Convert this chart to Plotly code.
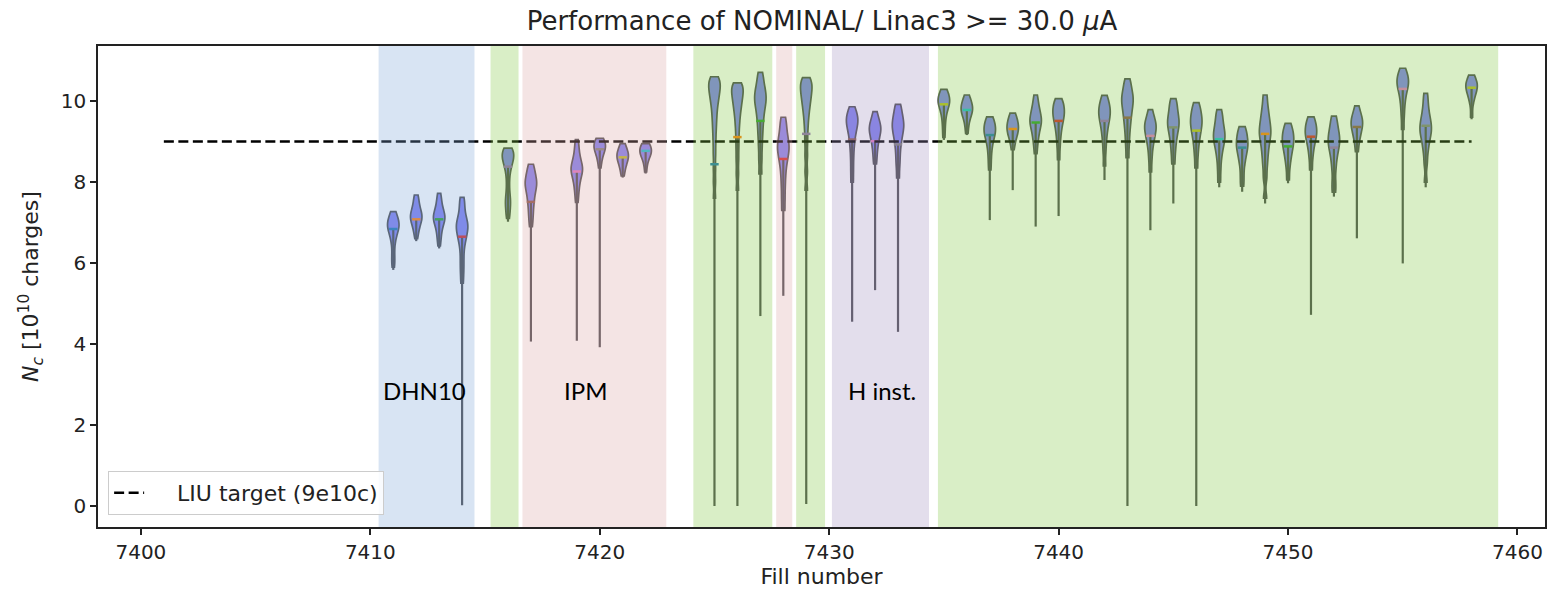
import plotly.graph_objects as go

# Fill numbers with a bunch-charge distribution
fills = [7411, 7412, 7413, 7414, 7416, 7417, 7419, 7420, 7421, 7422,
         7425, 7426, 7427, 7428, 7429, 7431, 7432, 7433, 7435, 7436,
         7437, 7438, 7439, 7440, 7442, 7443, 7444, 7445, 7446, 7447,
         7448, 7449, 7450, 7451, 7452, 7453, 7455, 7456, 7458]

# Bulk of the extracted charges per fill [1e10 charges]
charge_samples = [
    [5.9, 6.05, 6.2, 6.4, 6.55, 6.65, 6.72, 6.78, 6.83, 6.87, 6.91, 6.94, 6.97, 7.0, 7.04, 7.09, 7.15, 7.22, 7.27],
    [6.6, 6.75, 6.85, 6.92, 7.0, 7.05, 7.09, 7.12, 7.15, 7.18, 7.22, 7.27, 7.33, 7.4, 7.5, 7.6, 7.68],
    [6.42, 6.6, 6.72, 6.84, 6.93, 7.0, 7.05, 7.09, 7.12, 7.15, 7.19, 7.24, 7.3, 7.38, 7.48, 7.6, 7.72],
    [5.5, 5.75, 5.95, 6.15, 6.35, 6.5, 6.6, 6.68, 6.75, 6.82, 6.88, 6.93, 6.98, 7.04, 7.12, 7.22, 7.35, 7.5, 7.62],
    [7.1, 7.25, 7.4, 7.5, 7.6, 7.75, 7.95, 8.15, 8.3, 8.4, 8.47, 8.53, 8.58, 8.63, 8.68, 8.72, 8.76, 8.8, 8.84],
    [6.9, 7.1, 7.25, 7.4, 7.52, 7.62, 7.72, 7.8, 7.87, 7.93, 7.98, 8.03, 8.09, 8.16, 8.25, 8.35, 8.44],
    [7.5, 7.7, 7.85, 7.97, 8.07, 8.15, 8.22, 8.27, 8.31, 8.35, 8.4, 8.46, 8.53, 8.62, 8.74, 8.88, 9.05],
    [8.35, 8.5, 8.62, 8.7, 8.76, 8.81, 8.84, 8.87, 8.9, 8.93, 8.96, 9.0, 9.04, 9.08],
    [8.15, 8.28, 8.38, 8.47, 8.53, 8.58, 8.61, 8.64, 8.67, 8.7, 8.74, 8.8, 8.87, 8.95],
    [8.25, 8.45, 8.58, 8.65, 8.7, 8.73, 8.76, 8.78, 8.8, 8.83, 8.87, 8.91, 8.95],
    [7.6, 8.0, 8.35, 8.7, 9.0, 9.25, 9.45, 9.62, 9.77, 9.9, 10.0, 10.09, 10.17, 10.24, 10.31, 10.37, 10.43, 10.49, 10.55, 10.6],
    [7.8, 8.2, 8.55, 8.85, 9.12, 9.35, 9.53, 9.68, 9.8, 9.9, 9.99, 10.07, 10.15, 10.22, 10.28, 10.34, 10.4, 10.45],
    [8.2, 8.55, 8.85, 9.1, 9.3, 9.48, 9.63, 9.76, 9.87, 9.96, 10.04, 10.12, 10.2, 10.29, 10.4, 10.54, 10.71],
    [7.3, 7.6, 7.88, 8.12, 8.32, 8.48, 8.6, 8.7, 8.79, 8.87, 8.95, 9.04, 9.15, 9.28, 9.43, 9.6],
    [7.8, 8.25, 8.65, 9.0, 9.3, 9.53, 9.7, 9.84, 9.95, 10.05, 10.14, 10.22, 10.3, 10.37, 10.44, 10.51, 10.58],
    [8.0, 8.3, 8.58, 8.82, 9.0, 9.14, 9.25, 9.34, 9.42, 9.48, 9.54, 9.6, 9.67, 9.75, 9.86],
    [8.45, 8.65, 8.82, 8.95, 9.05, 9.14, 9.21, 9.27, 9.32, 9.37, 9.43, 9.5, 9.6, 9.74],
    [8.1, 8.4, 8.62, 8.82, 8.98, 9.1, 9.2, 9.29, 9.36, 9.43, 9.5, 9.58, 9.68, 9.8, 9.92],
    [9.1, 9.35, 9.55, 9.7, 9.8, 9.87, 9.93, 9.97, 10.01, 10.05, 10.1, 10.16, 10.22, 10.29],
    [9.2, 9.4, 9.55, 9.64, 9.7, 9.75, 9.79, 9.83, 9.87, 9.92, 9.98, 10.06, 10.15],
    [8.3, 8.55, 8.76, 8.92, 9.03, 9.12, 9.19, 9.24, 9.29, 9.34, 9.4, 9.47, 9.54, 9.61],
    [8.8, 8.98, 9.09, 9.17, 9.23, 9.28, 9.33, 9.37, 9.42, 9.48, 9.55, 9.62, 9.70],
    [8.7, 8.93, 9.08, 9.2, 9.3, 9.38, 9.45, 9.5, 9.55, 9.61, 9.68, 9.76, 9.86, 9.98, 10.15],
    [8.55, 8.85, 9.07, 9.23, 9.36, 9.46, 9.54, 9.61, 9.67, 9.73, 9.79, 9.85, 9.92, 9.99, 10.06],
    [8.4, 8.75, 9.0, 9.18, 9.32, 9.43, 9.52, 9.6, 9.67, 9.73, 9.79, 9.86, 9.94, 10.03, 10.14],
    [8.6, 8.9, 9.13, 9.32, 9.47, 9.6, 9.71, 9.81, 9.9, 9.98, 10.05, 10.12, 10.2, 10.3, 10.42, 10.55],
    [8.25, 8.55, 8.77, 8.93, 9.05, 9.14, 9.22, 9.29, 9.35, 9.41, 9.47, 9.54, 9.64, 9.79],
    [8.45, 8.72, 8.92, 9.08, 9.2, 9.3, 9.39, 9.46, 9.53, 9.61, 9.71, 9.82, 9.94, 10.06],
    [8.35, 8.65, 8.87, 9.03, 9.16, 9.26, 9.35, 9.43, 9.5, 9.57, 9.65, 9.74, 9.84, 9.96],
    [8.0, 8.3, 8.55, 8.72, 8.85, 8.95, 9.03, 9.1, 9.17, 9.24, 9.32, 9.42, 9.53, 9.66, 9.79],
    [7.9, 8.15, 8.4, 8.56, 8.68, 8.78, 8.86, 8.93, 9.0, 9.08, 9.17, 9.27, 9.37],
    [7.6, 8.1, 8.4, 8.62, 8.8, 8.95, 9.07, 9.17, 9.26, 9.35, 9.46, 9.58, 9.72, 9.9, 10.15],
    [8.05, 8.35, 8.55, 8.68, 8.79, 8.88, 8.96, 9.03, 9.1, 9.17, 9.25, 9.34, 9.45],
    [8.3, 8.6, 8.8, 8.94, 9.05, 9.13, 9.2, 9.27, 9.34, 9.42, 9.51, 9.61],
    [7.75, 8.0, 8.3, 8.52, 8.68, 8.8, 8.9, 8.98, 9.06, 9.14, 9.23, 9.34, 9.47, 9.63],
    [8.75, 8.98, 9.12, 9.22, 9.31, 9.38, 9.44, 9.5, 9.56, 9.63, 9.72, 9.88],
    [9.3, 9.62, 9.86, 10.04, 10.18, 10.28, 10.36, 10.43, 10.49, 10.55, 10.62, 10.7, 10.81],
    [8.0, 8.45, 8.72, 8.9, 9.04, 9.14, 9.23, 9.3, 9.38, 9.46, 9.55, 9.66, 9.8, 9.98, 10.19],
    [9.6, 9.95, 10.1, 10.2, 10.27, 10.33, 10.38, 10.42, 10.47, 10.53, 10.64],
]

# Lowest charge per fill (end of the low-intensity tail) [1e10 charges]
charge_min = [5.83, 6.54, 6.36, 0.02, 7.02, 4.06, 4.08, 3.92, 8.11, 8.21,
              0.0, 0.0, 4.69, 5.19, 0.05, 4.55, 5.33, 4.30, 9.04, 9.16,
              7.06, 7.80, 6.90, 7.16, 8.05, 0.0, 6.81, 7.47, 0.0, 7.87,
              7.76, 7.47, 7.97, 4.72, 7.64, 6.61, 5.99, 7.87, 9.55]

# Median charge per fill [1e10 charges]
median_charge = [6.84, 7.08, 7.08, 6.65, 8.38, 7.51, 8.26, 8.81, 8.61, 8.77,
                 8.44, 9.11, 9.51, 8.57, 9.19, 9.05, 9.01, 8.93, 9.92, 9.78,
                 9.16, 9.31, 9.47, 9.51, 9.51, 9.59, 9.14, 9.35, 9.27, 9.06,
                 8.85, 9.19, 8.88, 9.12, 8.85, 9.36, 10.30, 9.39, 10.33]

# Machine-condition periods (fill-number ranges)
span_start = [7410.36, 7415.24, 7416.63, 7424.08, 7427.69, 7428.56, 7430.12, 7434.74]
span_end = [7414.54, 7416.46, 7422.90, 7427.52, 7428.39, 7429.82, 7434.35, 7459.16]
span_kind = ["blue", "green", "pink", "green", "pink", "green", "purple", "green"]

region_labels = ["DHN10", "IPM", "H inst."]
region_label_fill = [7412.35, 7419.4, 7432.3]
region_label_charge = [2.85, 2.85, 2.85]

target_fills = [7401, 7458]
target_charge = 9.0

# Styling
SPAN_COLOURS = {
    "blue": "rgba(125,165,215,0.30)",
    "green": "rgba(128,198,65,0.30)",
    "pink": "rgba(218,165,165,0.30)",
    "purple": "rgba(162,145,192,0.30)",
}
TAB10 = ["#1f77b4", "#ff7f0e", "#2ca02c", "#d62728", "#9467bd",
         "#8c564b", "#e377c2", "#7f7f7f", "#bcbd22", "#17becf"]
BODY = "rgb(128,128,240)"
EDGE = "rgb(75,75,80)"
AXIS = "#222222"
FONT = "DejaVu Sans"

fig = go.Figure()

# Low-intensity tails: thin stems from the lowest charge up into the body
tail_x, tail_y = [], []
for fill, lo, med in zip(fills, charge_min, median_charge):
    tail_x += [fill, fill, None]
    tail_y += [lo, med, None]
fig.add_trace(go.Scatter(
    x=tail_x, y=tail_y, mode="lines",
    line=dict(color=EDGE, width=2.2),
    showlegend=False, hoverinfo="skip",
))

for fill, samples in zip(fills, charge_samples):
    fig.add_trace(go.Violin(
        x=[fill] * len(samples), y=samples,
        width=0.5, scalemode="width", spanmode="hard", bandwidth=0.15,
        points=False, box_visible=False, meanline_visible=False,
        fillcolor=BODY, line=dict(color=EDGE, width=1.7),
        showlegend=False, hoverinfo="skip",
    ))

median_colours = [TAB10[i % 10] for i in range(len(fills))]
fig.add_trace(go.Scatter(
    x=fills, y=median_charge, mode="markers",
    marker=dict(symbol="line-ew", size=6,
                line=dict(width=2.5, color=median_colours)),
    showlegend=False, hoverinfo="skip",
))

fig.add_trace(go.Scatter(
    x=target_fills, y=[target_charge] * len(target_fills), mode="lines",
    line=dict(color="black", width=2.6, dash="10px,4.5px"),
    name="\u00a0\u00a0\u00a0\u00a0LIU target (9e10c)",
))

for x0, x1, kind in zip(span_start, span_end, span_kind):
    fig.add_shape(type="rect", xref="x", yref="y domain",
                  x0=x0, x1=x1, y0=0, y1=1,
                  fillcolor=SPAN_COLOURS[kind], line_width=0, layer="above")

for text, fx, fy in zip(region_labels, region_label_fill, region_label_charge):
    fig.add_annotation(x=fx, y=fy, text=text, showarrow=False,
                       font=dict(family="Lato", size=24, color="black"))

axis_common = dict(
    showline=True, mirror=True, linecolor=AXIS, linewidth=1.5,
    ticks="outside", ticklen=6, tickwidth=1.5, tickcolor=AXIS,
    showgrid=False, zeroline=False,
    tickfont=dict(family=FONT, size=20, color=AXIS),
)

fig.update_layout(
    width=1548, height=594, autosize=False,
    margin=dict(l=98, r=1, t=46, b=67),
    plot_bgcolor="white", paper_bgcolor="white",
    violinmode="overlay", violingap=0,
    title=dict(text="Performance of NOMINAL/ Linac3 >= 30.0 <i>μ</i>A",
               x=0.531, xanchor="center", y=0.965, yanchor="middle",
               yref="container",
               font=dict(family=FONT, size=26, color=AXIS)),
    xaxis=dict(range=[7398.13, 7461.2], tickvals=[7400, 7410, 7420, 7430, 7440, 7450, 7460],
               type="linear",
               title=dict(text="Fill number", standoff=6,
                          font=dict(family=FONT, size=22, color=AXIS)),
               **axis_common),
    yaxis=dict(range=[-0.52, 11.36], tickvals=[0, 2, 4, 6, 8, 10],
               title=dict(text="<i>N<sub>c</sub></i> [10<sup>10</sup> charges]", standoff=16,
                          font=dict(family=FONT, size=22, color=AXIS)),
               **axis_common),
    showlegend=True,
    legend=dict(x=0.007, y=0.025, xanchor="left", yanchor="bottom",
                bgcolor="rgba(255,255,255,0.85)", bordercolor="#cccccc", borderwidth=1,
                font=dict(family=FONT, size=22, color=AXIS)),
)

fig.write_html("out.html")
